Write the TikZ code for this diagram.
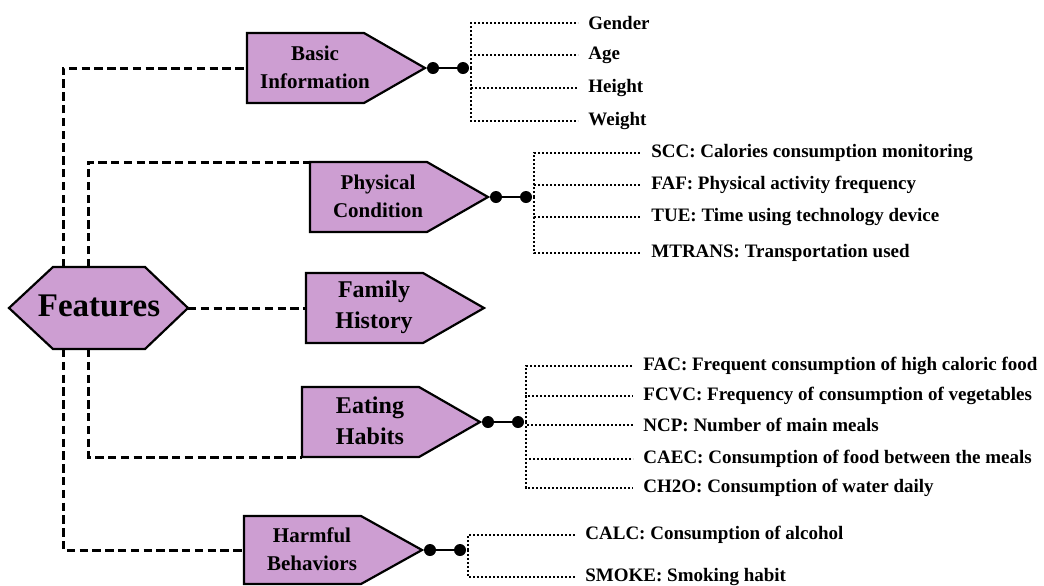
\documentclass[tikz,border=0pt]{standalone}
\usepackage{fontspec}
\setmainfont{Liberation Serif}
\usetikzlibrary{calc,math}

\definecolor{boxfill}{RGB}{205,158,210}

\tikzset{
	box/.style={draw=black, line width=1.1pt, fill=boxfill, line join=miter},
	boxtext/.style={align=center, inner sep=0pt, font=\bfseries\fontsize{10.5}{14}\selectfont},
	bigtext/.style={align=center, inner sep=0pt, font=\bfseries\fontsize{12}{15.5}\selectfont},
	dashline/.style={line width=1.5pt, dash pattern=on 4.2pt off 2.2pt},
	dotline/.style={line width=1.25pt, dash pattern=on 1.1pt off 0.9pt},
	knob/.style={circle, fill=black, inner sep=0pt, minimum size=6pt},
	item/.style={anchor=west, inner xsep=5pt, inner ysep=0pt, yshift=-1pt, font=\bfseries\fontsize{9.5}{11}\selectfont},
}

\begin{document}
\begin{tikzpicture}[x=0.5pt, y=-0.5pt]

	\useasboundingbox (0,0) rectangle (1044,585);

	\tikzmath{
		\rw = 117 ;
		\tw = 61 ;
	}

	% hexagon
	\draw[box] (9,308) -- (53,267) -- (145,267) -- (188,308) -- (145,349) -- (53,349) -- cycle;
	\node[font=\bfseries\fontsize{16.5}{18}\selectfont] (feat) at (99,306) {Features};

	\coordinate (feat-t1) at (63,267);
	\coordinate (feat-t2) at (88,267);
	\coordinate (feat-b1) at (63,349);
	\coordinate (feat-b2) at (88,349);
	\coordinate (feat-e) at (188,308);

	% category boxes
	\foreach \name/\l/\c/\hh/\txt/\sty in {
		basic/247/68/35/{Basic\\Information}/boxtext,
		phys/310/197/35/{Physical\\Condition}/boxtext,
		fam/306/308/35/{Family\\History}/bigtext,
		eat/302/422/35/{Eating\\Habits}/bigtext,
		harm/244/550/34/{Harmful\\Behaviors}/boxtext}
	{
		\coordinate (\name-w) at (\l,\c);
		\coordinate (\name-nw) at (\l,\c-\hh);
		\coordinate (\name-sw) at (\l,\c+\hh);
		\coordinate (\name-tip) at (\l+\rw+\tw,\c);
		\draw[box] (\name-nw) -- ++(\rw,0) -- (\name-tip) -- ($(\name-sw)+(\rw,0)$) -- (\name-sw) -- cycle;
		\node[\sty] (\name) at (\l+68,\c-1) {\txt};
	}

	\draw[dashline] (feat-t1) |- (basic-w);
	\draw[dashline] (feat-t2) |- (phys-nw);
	\draw[dashline] (feat-e) -- (fam-w);
	\draw[dashline] (feat-b2) |- (eat-sw);
	\draw[dashline] (feat-b1) |- (harm-w);

	% item lists
	\foreach \name/\items in {
		basic/{21/Gender, 53/Age, 86/Height, 119/Weight},
		phys/{151/SCC: Calories consumption monitoring, 183/FAF: Physical activity frequency, 215/TUE: Time using technology device, 251/MTRANS: Transportation used},
		eat/{364/FAC: Frequent consumption of high caloric food, 394/FCVC: Frequency of consumption of vegetables, 423/NCP: Number of main meals, 457/CAEC: Consumption of food between the meals, 486/CH2O: Consumption of water daily},
		harm/{533/CALC: Consumption of alcohol, 575/SMOKE: Smoking habit}}
	{
		\node[knob] (\name-k1) at ($(\name-tip)+(8,0)$) {};
		\node[knob] (\name-k2) at ($(\name-tip)+(38,0)$) {};
		\draw[line width=1.4pt] (\name-k1) -- (\name-k2);
		\coordinate (\name-v) at ($(\name-tip)+(46,0)$);
		\foreach \y/\lab [count=\i] in \items {
			\node[item] (\name-i\i) at ($(\name-v |- 0,\y)+(107,0)$) {\lab};
			\draw[dotline] (\name-v) |- (\name-i\i.west);
		}
	}

\end{tikzpicture}
\end{document}
